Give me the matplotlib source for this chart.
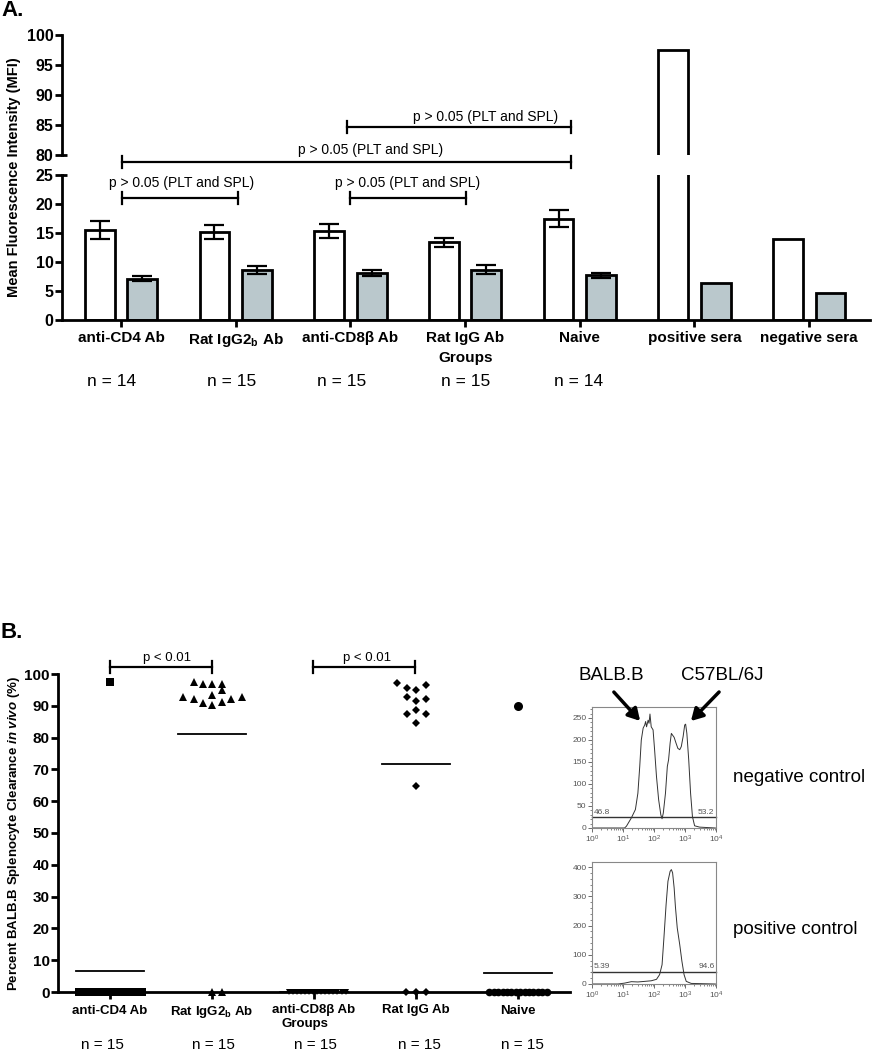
import numpy as np
import matplotlib
matplotlib.use("Agg")
import matplotlib.pyplot as plt
from matplotlib.patches import FancyArrowPatch
from matplotlib.ticker import MultipleLocator, LogLocator, NullFormatter
from matplotlib.transforms import blended_transform_factory

plt.rcParams['font.family'] = ['Liberation Sans', 'DejaVu Sans']
plt.rcParams['mathtext.fontset'] = 'custom'
plt.rcParams['mathtext.rm'] = 'Liberation Sans'
plt.rcParams['mathtext.it'] = 'Liberation Sans:italic'
plt.rcParams['mathtext.bf'] = 'Liberation Sans:bold'
plt.rcParams['mathtext.bfit'] = 'Liberation Sans:italic:bold'

# ---- panel A data ----
grupyA = ['anti-CD4 Ab', r'Rat IgG2$_\mathbf{b}$ Ab', 'anti-CD8β Ab', 'Rat IgG Ab',
          'Naive', 'positive sera', 'negative sera']
nA = ['n = 14', 'n = 15', 'n = 15', 'n = 15', 'n = 14']
pltMFI = [15.5, 15.1, 15.3, 13.4, 17.5, 97.5, 13.9]
pltErr = [1.6, 1.2, 1.2, 0.8, 1.5]
splMFI = [7.1, 8.6, 8.1, 8.7, 7.7, 6.3, 4.7]
splErr = [0.45, 0.7, 0.45, 0.7, 0.4]

# ---- panel B data ----
grupyB = ['anti-CD4 Ab', r'Rat IgG2$_\mathbf{b}$ Ab', 'anti-CD8β Ab', 'Rat IgG Ab', 'Naive']
nB = ['n = 15', 'n = 15', 'n = 15', 'n = 15', 'n = 15']
cd4_hi = [97.5]
cd4_hi_dx = [0.0]
cd4_zero = [0, 0, 0, 0, 0, 0, 0, 0, 0, 0, 0, 0, 0, 0]
igg2b_hi = [97.4, 96.9, 96.9, 96.9, 95.0, 92.7, 92.2, 91.0, 93.3, 90.2, 91.3, 92.2, 92.9]
igg2b_hi_dx = [-0.18, -0.085, 0.0, 0.098, 0.098, -0.28, -0.18, -0.085, 0.0, 0.0, 0.098, 0.19, 0.29]
igg2b_zero = [0, 0]
cd8_zero = [0, 0, 0, 0, 0, 0, 0, 0, 0, 0, 0, 0, 0, 0, 0]
ratigg_hi = [97.1, 95.5, 95.0, 96.5, 92.7, 91.6, 92.0, 87.4, 88.7, 87.4, 84.7, 64.9]
ratigg_hi_dx = [-0.19, -0.09, 0.0, 0.1, -0.09, 0.0, 0.1, -0.09, 0.0, 0.1, 0.0, 0.0]
ratigg_zero = [0, 0, 0]
naive_hi = [90.0]
naive_zero = [0, 0, 0, 0, 0, 0, 0, 0, 0, 0, 0, 0, 0, 0]

# ---- histogramy (log10 intensywnosci, liczba zdarzen) ----
negLog = [0.0, 1.05, 1.11, 1.27, 1.40, 1.48, 1.54, 1.59, 1.65, 1.70, 1.73, 1.76, 1.81, 1.84,
          1.87, 1.91, 1.97, 2.02, 2.08, 2.15, 2.22, 2.26, 2.30, 2.37, 2.43, 2.47, 2.52, 2.56,
          2.60, 2.65, 2.71, 2.77, 2.83, 2.88, 2.94, 2.99, 3.02, 3.06, 3.12, 3.18, 3.24, 3.31,
          3.47, 3.98]
negCnt = [0, 0, 4, 23, 42, 79, 140, 200, 227, 234, 242, 230, 245, 238,
          259, 230, 223, 177, 117, 64, 30, 21, 34, 79, 140, 155, 193, 215,
          211, 206, 193, 181, 178, 185, 208, 234, 236, 215, 155, 79, 26, 5,
          2, 0]
posLog = [0.0, 0.84, 1.05, 1.27, 1.48, 1.70, 1.91, 2.08, 2.18, 2.26, 2.32, 2.39, 2.45, 2.52,
          2.56, 2.60, 2.65, 2.69, 2.75, 2.83, 2.90, 2.97, 3.04, 3.20, 3.98]
posCnt = [0, 0, 3, 8, 7, 9, 11, 16, 32, 66, 158, 272, 352, 386,
          392, 381, 329, 266, 192, 135, 78, 32, 9, 2, 0]

W, H = 872, 1050


def prost(l, t, r, b):
    return [l / W, 1 - b / H, (r - l) / W, (b - t) / H]


figura = plt.figure(figsize=(W / 100, H / 100), dpi=100)

# ================= Panel A =================
osDol = figura.add_axes(prost(62, 175, 870, 320))
osGora = figura.add_axes(prost(62, 35, 870, 155))
xA = np.arange(len(grupyA))
szer = 0.26
off = 0.185
for o in (osDol, osGora):
    o.bar(xA - off, pltMFI, szer, color='white', edgecolor='black', linewidth=2, zorder=2)
    o.bar(xA + off, splMFI, szer, color='#bac8cc', edgecolor='black', linewidth=2, zorder=2)
    o.set_xlim(-0.514, 6.53)
    for s in ('top', 'right'):
        o.spines[s].set_visible(False)
    o.spines['left'].set_linewidth(2)
    o.spines['bottom'].set_linewidth(2)
    o.tick_params(axis='y', length=5, width=2, labelsize=11.5, pad=1)

osDol.errorbar(xA[:5] - off, pltMFI[:5], yerr=pltErr, fmt='none', ecolor='black',
               elinewidth=1.6, capsize=7, capthick=1.6, zorder=3)
osDol.errorbar(xA[:5] + off, splMFI[:5], yerr=splErr, fmt='none', ecolor='black',
               elinewidth=1.6, capsize=7, capthick=1.6, zorder=3)

osDol.set_ylim(0, 25)
osDol.set_yticks([0, 5, 10, 15, 20, 25])
osDol.set_xticks(xA)
osDol.set_xticklabels(grupyA, fontsize=11, fontweight='bold')
osDol.tick_params(axis='x', length=5, width=2, pad=3)
for lab in osDol.get_yticklabels():
    lab.set_fontweight('bold')

osGora.set_ylim(80, 100)
osGora.set_yticks([80, 85, 90, 95, 100])
osGora.spines['bottom'].set_visible(False)
osGora.set_xticks([])
for lab in osGora.get_yticklabels():
    lab.set_fontweight('bold')

# znaczniki przerwy osi
osDol.plot([-0.514, -0.47], [25, 25], color='black', lw=2, clip_on=False, solid_capstyle='butt')
osGora.plot([-0.514, -0.47], [80, 80], color='black', lw=2, clip_on=False, solid_capstyle='butt')


def klamra(o, x1, x2, y, dy, tekst, tx, ty, fs):
    o.plot([x1, x2], [y, y], color='black', lw=1.6, clip_on=False, zorder=4)
    o.plot([x1, x1], [y - dy, y + dy], color='black', lw=1.6, clip_on=False, zorder=4)
    o.plot([x2, x2], [y - dy, y + dy], color='black', lw=1.6, clip_on=False, zorder=4)
    o.text(tx, ty, tekst, ha='center', va='center', fontsize=fs, clip_on=False, zorder=5)


pA = 'p > 0.05 (PLT and SPL)'
klamra(osDol, 0.01, 1.02, 21.0, 1.0, pA, 0.53, 23.6, 10)
klamra(osDol, 2.0, 3.01, 21.0, 1.0, pA, 2.5, 23.6, 10)
klamra(osGora, 0.01, 3.92, 78.83, 1.0, pA, 2.18, 80.8, 10)
klamra(osGora, 1.97, 3.92, 84.67, 1.0, pA, 3.18, 86.4, 10)

nA_px = [112, 232, 342, 466, 579]
for px, t in zip(nA_px, nA):
    figura.text(px / W, 1 - 381 / H, t, ha='center', va='center', fontsize=12.5)
figura.text(466 / W, 1 - 358 / H, 'Groups', ha='center', va='center', fontsize=11,
            fontweight='bold')
figura.text(14 / W, 1 - 177 / H, 'Mean Fluorescence Intensity (MFI)', rotation=90,
            ha='center', va='center', fontsize=10.5, fontweight='bold')
figura.text(1 / W, 1 - 10 / H, 'A.', ha='left', va='center', fontsize=16, fontweight='bold')

# ================= Panel B =================
osB = figura.add_axes(prost(58, 674, 570, 992))
osB.set_xlim(-0.51, 4.51)
osB.set_ylim(0, 100)
for s in ('top', 'right'):
    osB.spines[s].set_visible(False)
osB.spines['left'].set_linewidth(2)
osB.spines['bottom'].set_linewidth(2)
osB.set_yticks(np.arange(0, 101, 10))
osB.tick_params(axis='y', length=5, width=2, labelsize=11, pad=1)
osB.set_xticks(np.arange(5))
osB.set_xticklabels(grupyB, fontsize=9.5, fontweight='bold')
osB.tick_params(axis='x', length=5, width=2, pad=4)
for lab in osB.get_yticklabels():
    lab.set_fontweight('bold')

kw = dict(color='black', linestyle='none', clip_on=False, zorder=5, markeredgewidth=0)
# anti-CD4
osB.plot(np.array(cd4_hi_dx) + 0, cd4_hi, marker='s', ms=6, **kw)
osB.plot(np.linspace(-0.30, 0.31, len(cd4_zero)), cd4_zero, marker='s', ms=6, **kw)
# Rat IgG2b
osB.plot(np.array(igg2b_hi_dx) + 1, igg2b_hi, marker='^', ms=6, **kw)
osB.plot(np.array([0.0, 0.1]) + 1, igg2b_zero, marker='^', ms=5.5, **kw)
# anti-CD8b
osB.plot(np.linspace(-0.25, 0.31, len(cd8_zero)) + 2, cd8_zero, marker='v', ms=4, **kw)
# Rat IgG
osB.plot(np.array(ratigg_hi_dx) + 3, ratigg_hi, marker='D', ms=4, **kw)
osB.plot(np.array([-0.1, 0.0, 0.1]) + 3, ratigg_zero, marker='D', ms=4, **kw)
# Naive
osB.plot([4], naive_hi, marker='o', ms=6.5, **kw)
osB.plot(np.linspace(-0.28, 0.28, len(naive_zero)) + 4, naive_zero, marker='o', ms=5.5, **kw)

grupyWart = [cd4_hi + cd4_zero, igg2b_hi + igg2b_zero, cd8_zero,
             ratigg_hi + ratigg_zero, naive_hi + naive_zero]
for i, w in enumerate(grupyWart):
    m = np.mean(w)
    osB.plot([i - 0.33, i + 0.33], [m, m], color='black', lw=1.3, zorder=4)

klamra(osB, 0.0, 1.0, 102.2, 1.9, 'p < 0.01', 0.556, 105.0, 9.5)
klamra(osB, 1.99, 2.99, 102.2, 1.9, 'p < 0.01', 2.52, 105.0, 9.5)

nB_px = [102, 213, 315, 419, 522]
for px, t in zip(nB_px, nB):
    figura.text(px / W, 1 - 1045 / H, t, ha='center', va='center', fontsize=11)
figura.text(305 / W, 1 - 1024 / H, 'Groups', ha='center', va='center', fontsize=9.5,
            fontweight='bold')
figura.text(14 / W, 1 - 833 / H,
            r'Percent BALB.B Splenocyte Clearance $\mathbfit{in\ vivo}$ (%)', rotation=90,
            ha='center', va='center', fontsize=9.5, fontweight='bold')
figura.text(1 / W, 1 - 632 / H, 'B.', ha='left', va='center', fontsize=16, fontweight='bold')


# ================= Histogramy =================
def histogram(rect, logi, liczby, ymax, ykrok, ymin_krok, bramka, lewy, prawy):
    o = figura.add_axes(rect)
    o.plot(10 ** np.array(logi), liczby, color='#333333', lw=0.7)
    o.set_xscale('log')
    o.set_xlim(1, 1e4)
    o.set_ylim(0, ymax)
    o.yaxis.set_major_locator(MultipleLocator(ykrok))
    o.yaxis.set_minor_locator(MultipleLocator(ymin_krok))
    o.xaxis.set_major_locator(LogLocator(base=10, numticks=6))
    o.xaxis.set_minor_locator(LogLocator(base=10, subs=np.arange(2, 10), numticks=20))
    o.xaxis.set_minor_formatter(NullFormatter())
    for s in o.spines.values():
        s.set_color('#888888')
        s.set_linewidth(0.8)
    o.tick_params(which='both', colors='#555555', labelsize=6, pad=1)
    o.tick_params(which='major', length=3, width=0.6)
    o.tick_params(which='minor', length=1.5, width=0.5)
    o.plot([1, 1e4], [bramka, bramka], color='#333333', lw=1.0, clip_on=False)
    o.text(1.15, bramka + ymax * 0.015, lewy, fontsize=6, color='#555555', va='bottom', ha='left')
    o.text(10 ** 3.95, bramka + ymax * 0.015, prawy, fontsize=6, color='#555555',
           va='bottom', ha='right')
    return o


histogram(prost(592, 707, 716, 828), negLog, negCnt, 275, 50, 10, 24, '46.8', '53.2')
histogram(prost(592, 862, 716, 984), posLog, posCnt, 418, 100, 20, 40, '5.39', '94.6')

figura.text(611 / W, 1 - 675 / H, 'BALB.B', ha='center', va='center', fontsize=13.5)
figura.text(722 / W, 1 - 675 / H, 'C57BL/6J', ha='center', va='center', fontsize=13.5)
for start, koniec in [((612, 690), (642, 723)), ((721, 690), (689, 723))]:
    figura.add_artist(FancyArrowPatch(
        (start[0] / W, 1 - start[1] / H), (koniec[0] / W, 1 - koniec[1] / H),
        transform=figura.transFigure, arrowstyle='-|>,head_length=7,head_width=4',
        color='black', lw=2.5, mutation_scale=1))
figura.text(733 / W, 1 - 777 / H, 'negative control', ha='left', va='center', fontsize=13.5)
figura.text(733 / W, 1 - 929 / H, 'positive control', ha='left', va='center', fontsize=13.5)

figura.savefig('out.png', dpi=100)
